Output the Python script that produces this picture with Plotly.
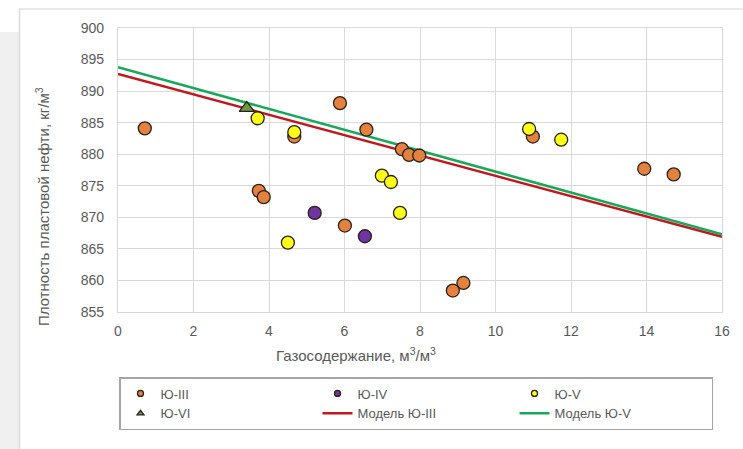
import plotly.graph_objects as go

# ---------------- data ----------------
ju3_x = [0.71, 5.88, 4.67, 6.58, 7.52, 7.71, 7.98, 3.73, 3.86, 6.01, 8.87, 9.15, 10.99, 13.94, 14.72]
ju3_y = [884.1, 888.1, 882.8, 883.9, 880.8, 879.9, 879.8, 874.2, 873.2, 868.7, 858.4, 859.6, 882.8, 877.7, 876.8]

ju4_x = [5.21, 6.54]
ju4_y = [870.7, 867.0]

ju5_x = [3.70, 4.67, 6.99, 7.23, 7.47, 4.50, 10.89, 11.74]
ju5_y = [885.7, 883.5, 876.6, 875.6, 870.7, 866.0, 884.0, 882.3]

ju6_x = [3.41]
ju6_y = [887.3]

model_x = [0, 16]
model3_y = [892.7, 866.9]
model5_y = [893.8, 867.3]

x_ticks = [0, 2, 4, 6, 8, 10, 12, 14, 16]
y_ticks = [855, 860, 865, 870, 875, 880, 885, 890, 895, 900]

# ---------------- styling ----------------
W, H = 743, 449
ML, MR, MT, MB = 118, 21, 28, 137
PW = W - ML - MR
PH = H - MT - MB
TXT = "#595959"
GRID = "#d9d9d9"
FONT = "Liberation Sans, Arial, sans-serif"
OUTLINE = "#2b2118"

def px_x(p):
    return (p - ML) / PW

def px_y(p):
    return 1 - (p - MT) / PH

fig = go.Figure()

# regression lines
fig.add_trace(go.Scatter(x=model_x, y=model3_y, mode="lines",
                         line=dict(color="#c0181e", width=2.5), showlegend=False))
fig.add_trace(go.Scatter(x=model_x, y=model5_y, mode="lines",
                         line=dict(color="#19a85a", width=2.5), showlegend=False))

series = [
    ("Ю-III", ju3_x, ju3_y, "#e5813f", "circle"),
    ("Ю-IV", ju4_x, ju4_y, "#7034a3", "circle"),
    ("Ю-V", ju5_x, ju5_y, "#ffff1a", "circle"),
    ("Ю-VI", ju6_x, ju6_y, "#6f9a44", "triangle-up"),
]
for name, xs, ys, col, sym in series:
    fig.add_trace(go.Scatter(x=xs, y=ys, mode="markers", name=name, showlegend=False,
                             marker=dict(color=col, symbol=sym, size=13,
                                         line=dict(color=OUTLINE, width=1.3))))

# legend entries (small markers as in the original)
for name, xs, ys, col, sym in series:
    fig.add_trace(go.Scatter(x=[None], y=[None], mode="markers", name=name,
                             marker=dict(color=col, symbol=sym, size=6,
                                         line=dict(color=OUTLINE, width=1.3))))
fig.add_trace(go.Scatter(x=[None], y=[None], mode="lines", name="Модель Ю-III",
                         line=dict(color="#c0181e", width=2.5)))
fig.add_trace(go.Scatter(x=[None], y=[None], mode="lines", name="Модель Ю-V",
                         line=dict(color="#19a85a", width=2.5)))

axis_common = dict(showgrid=True, gridcolor=GRID, gridwidth=1.3,
                   showline=True, linecolor=GRID, linewidth=1.3, mirror=True,
                   zeroline=False, ticks="",
                   tickfont=dict(family=FONT, size=14, color=TXT))

fig.update_xaxes(range=[0, 16], tickvals=x_ticks, ticklabelstandoff=6, **axis_common)
fig.update_yaxes(range=[855, 900], tickvals=y_ticks, ticklabelstandoff=10, **axis_common)

shapes = [
    # grey page strip on the left
    dict(type="rect", xref="paper", yref="paper", x0=px_x(0), x1=px_x(19),
         y0=px_y(449), y1=px_y(32), fillcolor="#f0f0f0", line=dict(width=0), layer="below"),
    # card border
    dict(type="line", xref="paper", yref="paper", x0=px_x(19.5), x1=px_x(19.5),
         y0=px_y(449), y1=px_y(8), line=dict(color="#dcdcdc", width=1.5)),
    dict(type="line", xref="paper", yref="paper", x0=px_x(19.5), x1=px_x(743),
         y0=px_y(9), y1=px_y(9), line=dict(color="#e2e2e2", width=1.5)),
]

annotations = [
    dict(text="Газосодержание, м<sup>3</sup>/м<sup>3</sup>", xref="paper", yref="paper",
         x=px_x(356), y=px_y(354), xanchor="center", yanchor="middle", showarrow=False,
         font=dict(family=FONT, size=15, color=TXT)),
    dict(text="Плотность пластовой нефти, кг/м<sup>3</sup>", xref="paper", yref="paper",
         x=px_x(42), y=px_y(207), xanchor="center", yanchor="middle", showarrow=False,
         textangle=-90, font=dict(family=FONT, size=15, color=TXT)),
]

fig.update_layout(
    width=W, height=H,
    margin=dict(l=ML, r=MR, t=MT, b=MB, autoexpand=False),
    paper_bgcolor="white", plot_bgcolor="white",
    shapes=shapes, annotations=annotations,
    legend=dict(orientation="h", xref="paper", yref="paper",
                x=px_x(119), y=px_y(377), xanchor="left", yanchor="top",
                entrywidth=152, entrywidthmode="pixels",
                bgcolor="white", bordercolor="#a6a6a6", borderwidth=1.5,
                font=dict(family=FONT, size=13, color=TXT),
                traceorder="normal", tracegroupgap=0),
    showlegend=True,
)

fig.write_html("out.html", config={"displayModeBar": False},
               post_script="document.body.style.margin='0';")
